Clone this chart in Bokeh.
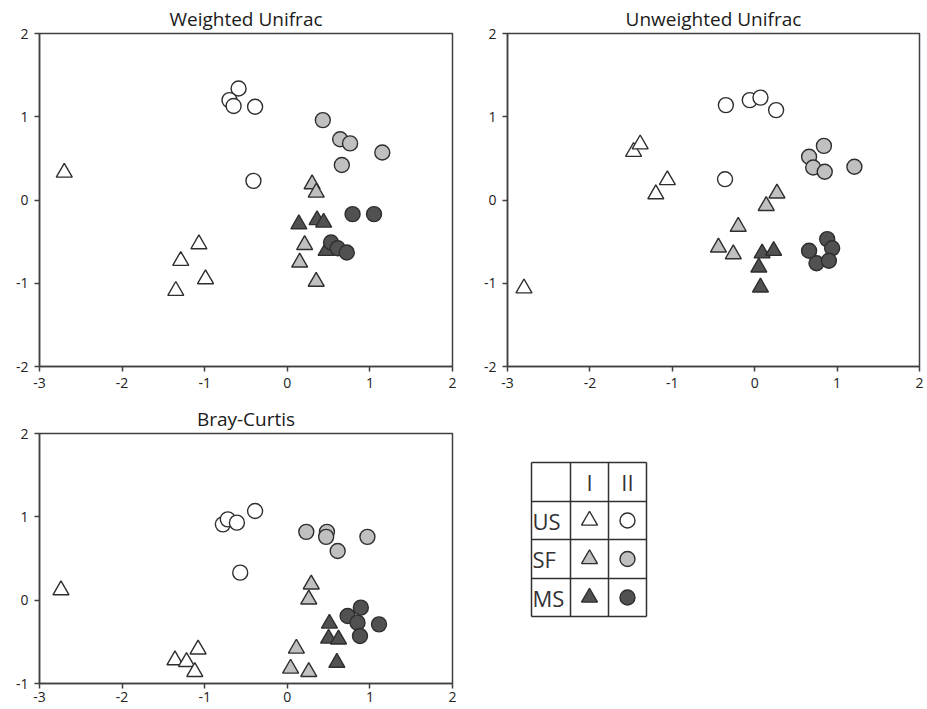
from bokeh.plotting import figure
from bokeh.layouts import column, row
from bokeh.models import Range1d, FixedTicker
from bokeh.embed import file_html
from bokeh.resources import INLINE

# ---------------- data ----------------
titles = ["Weighted Unifrac", "Unweighted Unifrac", "Bray-Curtis"]
x_ticks = [-3, -2, -1, 0, 1, 2]
y_ticks_top = [-2, -1, 0, 1, 2]
y_ticks_bottom = [-1, 0, 1, 2]

# Weighted Unifrac
wu_us_i_x = [-2.70, -1.07, -1.29, -0.99, -1.35]
wu_us_i_y = [0.33, -0.53, -0.73, -0.95, -1.09]
wu_us_ii_x = [-0.59, -0.70, -0.65, -0.39, -0.41]
wu_us_ii_y = [1.34, 1.20, 1.13, 1.12, 0.23]
wu_sf_i_x = [0.30, 0.35, 0.21, 0.15, 0.35]
wu_sf_i_y = [0.19, 0.09, -0.54, -0.75, -0.98]
wu_sf_ii_x = [0.43, 0.64, 0.76, 1.15, 0.66]
wu_sf_ii_y = [0.96, 0.73, 0.68, 0.57, 0.42]
wu_ms_i_x = [0.14, 0.36, 0.44, 0.47]
wu_ms_i_y = [-0.29, -0.24, -0.27, -0.61]
wu_ms_ii_x = [0.79, 1.05, 0.53, 0.61, 0.72]
wu_ms_ii_y = [-0.17, -0.17, -0.51, -0.58, -0.63]

# Unweighted Unifrac
uu_us_i_x = [-2.80, -1.47, -1.39, -1.06, -1.20]
uu_us_i_y = [-1.06, 0.58, 0.67, 0.24, 0.07]
uu_us_ii_x = [-0.35, -0.06, 0.07, 0.26, -0.36]
uu_us_ii_y = [1.14, 1.20, 1.23, 1.08, 0.25]
uu_sf_i_x = [0.27, 0.14, -0.20, -0.44, -0.26]
uu_sf_i_y = [0.08, -0.07, -0.32, -0.57, -0.65]
uu_sf_ii_x = [0.66, 0.84, 0.71, 0.85, 1.21]
uu_sf_ii_y = [0.52, 0.65, 0.39, 0.34, 0.40]
uu_ms_i_x = [0.09, 0.23, 0.05, 0.07]
uu_ms_i_y = [-0.64, -0.61, -0.81, -1.05]
uu_ms_ii_x = [0.66, 0.88, 0.94, 0.75, 0.90]
uu_ms_ii_y = [-0.61, -0.47, -0.58, -0.76, -0.73]

# Bray-Curtis
bc_us_i_x = [-2.74, -1.36, -1.22, -1.08, -1.12]
bc_us_i_y = [0.12, -0.72, -0.74, -0.59, -0.86]
bc_us_ii_x = [-0.78, -0.72, -0.61, -0.39, -0.57]
bc_us_ii_y = [0.91, 0.97, 0.93, 1.07, 0.33]
bc_sf_i_x = [0.29, 0.26, 0.11, 0.04, 0.26]
bc_sf_i_y = [0.19, 0.01, -0.58, -0.82, -0.86]
bc_sf_ii_x = [0.23, 0.48, 0.47, 0.61, 0.97]
bc_sf_ii_y = [0.82, 0.82, 0.76, 0.59, 0.76]
bc_ms_i_x = [0.51, 0.50, 0.62, 0.60]
bc_ms_i_y = [-0.28, -0.46, -0.47, -0.75]
bc_ms_ii_x = [0.73, 0.89, 0.85, 1.11, 0.88]
bc_ms_ii_y = [-0.19, -0.09, -0.27, -0.29, -0.43]

# legend table
row_labels = ["US", "SF", "MS"]
col_labels = ["I", "II"]

# ---------------- styles ----------------
FILL = {"US": "#ffffff", "SF": "#c0c0c0", "MS": "#515151"}
MARK = {"I": "triangle", "II": "circle"}
SIZE = {"I": 16, "II": 15}
EDGE = "#2e2e2e"
AXC = "#404040"
FONT = "Open Sans"

panel_data = [
    {("US", "I"): (wu_us_i_x, wu_us_i_y), ("US", "II"): (wu_us_ii_x, wu_us_ii_y),
     ("SF", "I"): (wu_sf_i_x, wu_sf_i_y), ("SF", "II"): (wu_sf_ii_x, wu_sf_ii_y),
     ("MS", "I"): (wu_ms_i_x, wu_ms_i_y), ("MS", "II"): (wu_ms_ii_x, wu_ms_ii_y)},
    {("US", "I"): (uu_us_i_x, uu_us_i_y), ("US", "II"): (uu_us_ii_x, uu_us_ii_y),
     ("SF", "I"): (uu_sf_i_x, uu_sf_i_y), ("SF", "II"): (uu_sf_ii_x, uu_sf_ii_y),
     ("MS", "I"): (uu_ms_i_x, uu_ms_i_y), ("MS", "II"): (uu_ms_ii_x, uu_ms_ii_y)},
    {("US", "I"): (bc_us_i_x, bc_us_i_y), ("US", "II"): (bc_us_ii_x, bc_us_ii_y),
     ("SF", "I"): (bc_sf_i_x, bc_sf_i_y), ("SF", "II"): (bc_sf_ii_x, bc_sf_ii_y),
     ("MS", "I"): (bc_ms_i_x, bc_ms_i_y), ("MS", "II"): (bc_ms_ii_x, bc_ms_ii_y)},
]


def make_panel(idx, width, height, bl, br, bt, bb, yticks, x_standoff):
    p = figure(width=width, height=height, output_backend="svg", toolbar_location=None,
               x_range=Range1d(-3, 2), y_range=Range1d(min(yticks), max(yticks)),
               min_border_left=bl, min_border_right=br, min_border_top=bt,
               min_border_bottom=bb, title=titles[idx])
    p.title.text_font = FONT
    p.title.text_font_size = "19px"
    p.title.text_font_style = "normal"
    p.title.text_color = "#1a1a1a"
    p.title.align = "center"
    p.title.standoff = 4
    p.grid.visible = False
    p.outline_line_color = AXC
    p.outline_line_width = 1.5
    p.outline_line_alpha = 1.0
    p.background_fill_color = "white"
    p.border_fill_color = "white"
    for ax, ticks in ((p.xaxis[0], x_ticks), (p.yaxis[0], yticks)):
        ax.ticker = FixedTicker(ticks=ticks, minor_ticks=[])
        ax.major_label_overrides = {t: str(t) for t in ticks}
        ax.axis_line_color = AXC
        ax.axis_line_width = 1.5
        ax.major_tick_line_color = AXC
        ax.major_tick_line_width = 1.5
        ax.major_tick_in = 0
        ax.major_tick_out = 5
        ax.minor_tick_line_color = None
        ax.major_label_text_font = FONT
        ax.major_label_text_font_size = "14px"
        ax.major_label_text_color = "#222222"
    p.xaxis.major_label_standoff = x_standoff
    p.yaxis.major_label_standoff = 6
    data = panel_data[idx]
    for kind in ("I", "II"):
        for grp in ("US", "SF", "MS"):
            xs, ys = data[(grp, kind)]
            p.scatter(xs, ys, marker=MARK[kind], size=SIZE[kind],
                      fill_color=FILL[grp], line_color=EDGE, line_width=1.4)
    return p


p1 = make_panel(0, 470, 400, 39, 18, 33, 34, y_ticks_top, 6)
p2 = make_panel(1, 455, 400, 37, 6, 33, 34, y_ticks_top, 6)
p3 = make_panel(2, 470, 309, 39, 18, 33, 26, y_ticks_bottom, 3)

# legend table panel, ranges in page pixels (y downwards)
LW, LH = 455, 309
p4 = figure(width=LW, height=LH, output_backend="svg", toolbar_location=None,
            x_range=Range1d(470, 470 + LW), y_range=Range1d(683, 433),
            min_border_left=0, min_border_right=0,
            min_border_top=33, min_border_bottom=26)
p4.axis.visible = False
p4.grid.visible = False
p4.outline_line_color = None
p4.background_fill_color = "white"
p4.border_fill_color = "white"

col_edges = [531, 570, 608, 646]
row_edges = [462, 501, 539, 578, 616]
for cx in col_edges:
    p4.line([cx, cx], [row_edges[0], row_edges[-1]], line_color="#303030", line_width=1.5)
for ry in row_edges:
    p4.line([col_edges[0], col_edges[-1]], [ry, ry], line_color="#303030", line_width=1.5)

col_c = [(col_edges[i] + col_edges[i + 1]) / 2 for i in range(3)]
row_c = [(row_edges[i] + row_edges[i + 1]) / 2 for i in range(4)]

p4.text(x=[col_c[1], col_c[2]], y=[row_c[0], row_c[0]], text=col_labels,
        text_align="center", text_baseline="middle", text_font_size="22px",
        text_color="#333333", text_font={"value": FONT})
p4.text(x=[col_edges[0] + 1] * 3, y=row_c[1:], text=row_labels,
        text_align="left", text_baseline="middle", text_font_size="22px",
        text_color="#333333", text_font={"value": FONT})
for i, grp in enumerate(row_labels):
    for j, kind in enumerate(col_labels):
        p4.scatter([col_c[j + 1]], [row_c[i + 1]], marker=MARK[kind], size=SIZE[kind],
                   fill_color=FILL[grp], line_color=EDGE, line_width=1.4)

layout = column(row(p1, p2), row(p3, p4))
open("out.html", "w").write(file_html(layout, INLINE))
